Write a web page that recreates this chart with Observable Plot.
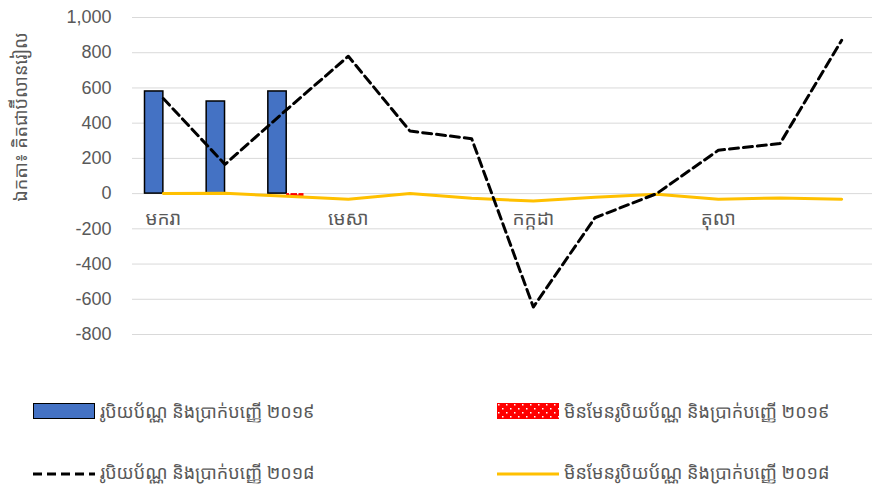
<!DOCTYPE html>
<html>
<head>
<meta charset="utf-8">
<script src="https://cdn.jsdelivr.net/npm/d3@7"></script>
<script src="https://cdn.jsdelivr.net/npm/@observablehq/plot@0.6"></script>
<style>
  body { margin: 0; background: #fff; }
  #wrap { position: relative; width: 877px; height: 490px; font-family: "Noto Sans Khmer", "Khmer OS", "Liberation Sans", sans-serif; }
  .leg { position: absolute; display: flex; align-items: center; font-size: 18px; color: #595959; white-space: nowrap; }
  .sw { width: 62px; height: 16px; margin-right: 5px; box-sizing: border-box; }
</style>
</head>
<body>
<div id="wrap"></div>
<script>
const months = ["មករា","កុម្ភៈ","មីនា","មេសា","ឧសភា","មិថុនា","កក្កដា","សីហា","កញ្ញា","តុលា","វិច្ឆិកា","ធ្នូ"];
const shownMonthLabels = ["មករា","មេសា","កក្កដា","តុលា"];
const currency2019 = [580, 523, 580];
const nonCurrency2019 = [0, 0, -16];
const currency2018 = [540, 166, 477, 780, 355, 312, -644, -137, 0, 246, 284, 871];
const nonCurrency2018 = [0, 2, -15, -32, 0, -27, -42, -20, -3, -32, -25, -32];
const yTicks = [-800, -600, -400, -200, 0, 200, 400, 600, 800, 1000];
const seriesNames = ["រូបិយប័ណ្ណ និងប្រាក់បញ្ញើ ២០១៩", "មិនមែនរូបិយប័ណ្ណ និងប្រាក់បញ្ញើ ២០១៩", "រូបិយប័ណ្ណ និងប្រាក់បញ្ញើ ២០១៨", "មិនមែនរូបិយប័ណ្ណ និងប្រាក់បញ្ញើ ២០១៨"];
const yTitle = "ឯកតា៖ គិតជាប៊ីលានរៀល";

const bars19 = currency2019.map((v, i) => ({month: months[i], v}));
const bars19n = nonCurrency2019.map((v, i) => ({month: months[i], v}));
const line18 = currency2018.map((v, i) => ({month: months[i], v}));
const line18n = nonCurrency2018.map((v, i) => ({month: months[i], v}));

const fmt = d3.format(",");
const chart = Plot.plot({
  width: 877,
  height: 375,
  marginTop: 17,
  marginBottom: 41,
  marginLeft: 132,
  marginRight: 5,
  style: {fontFamily: '"Liberation Sans", sans-serif', fontSize: "18px", color: "#595959", background: "transparent"},
  x: {type: "band", domain: months, padding: 0, round: false, axis: null},
  y: {domain: [-800, 1000], ticks: yTicks, tickFormat: d => fmt(d).replace("−", "-"), tickSize: 0, tickPadding: 21, label: null},
  marks: [
    Plot.gridY(yTicks, {stroke: "#d9d9d9", strokeOpacity: 1, strokeWidth: 1}),
    Plot.barY(bars19, {x: "month", y: "v", fill: "#4472C4", stroke: "#000", strokeWidth: 1.5, insetLeft: 12.5, insetRight: 30.8}),
    Plot.barY(bars19n, {x: "month", y: "v", fill: "url(#reddots)", stroke: "none", insetLeft: 30.8, insetRight: 13.5}),
    Plot.line(line18n, {x: "month", y: "v", stroke: "#FFC000", strokeWidth: 3}),
    Plot.line(line18, {x: "month", y: "v", stroke: "#000", strokeWidth: 3, strokeDasharray: "9,5"}),
    Plot.text(shownMonthLabels, {x: d => d, y: 0, dy: 25, text: d => d, fill: "#595959", fontSize: 19, fontFamily: '"Noto Sans Khmer", "Khmer OS", sans-serif'})
  ]
});

// pattern for dotted red bar
const defs = d3.select(chart).insert("defs", ":first-child");
const pat = defs.append("pattern").attr("id", "reddots").attr("patternUnits", "userSpaceOnUse").attr("width", 8).attr("height", 8);
pat.append("rect").attr("width", 8).attr("height", 8).attr("fill", "#FF0000");
pat.append("rect").attr("x", 1).attr("y", 1).attr("width", 1.5).attr("height", 1.5).attr("fill", "#fff");
pat.append("rect").attr("x", 5).attr("y", 5).attr("width", 1.5).attr("height", 1.5).attr("fill", "#fff");

// y-axis title
d3.select(chart).append("text")
  .attr("transform", "translate(22,117) rotate(-90)")
  .attr("text-anchor", "middle")
  .attr("dominant-baseline", "middle")
  .attr("fill", "#595959")
  .style("font-size", "18px")
  .style("font-family", '"Noto Sans Khmer", "Khmer OS", sans-serif')
  .text(yTitle);

const wrap = document.getElementById("wrap");
wrap.appendChild(chart);

const legendDefs = [
  {name: seriesNames[0], x: 33, y: 411, sw: '<div class="sw" style="background:#4472C4;border:1.5px solid #000"></div>'},
  {name: seriesNames[1], x: 497, y: 411, sw: '<svg class="sw" width="62" height="16"><defs><pattern id="rd2" patternUnits="userSpaceOnUse" width="8" height="8"><rect width="8" height="8" fill="#FF0000"/><rect x="1" y="1" width="1.5" height="1.5" fill="#fff"/><rect x="5" y="5" width="1.5" height="1.5" fill="#fff"/></pattern></defs><rect width="62" height="16" fill="url(#rd2)"/></svg>'},
  {name: seriesNames[2], x: 33, y: 472, sw: '<svg class="sw" width="62" height="16"><line x1="0" x2="62" y1="10" y2="10" stroke="#000" stroke-width="3" stroke-dasharray="9,5"/></svg>'},
  {name: seriesNames[3], x: 497, y: 472, sw: '<svg class="sw" width="62" height="16"><line x1="0" x2="62" y1="10" y2="10" stroke="#FFC000" stroke-width="3"/></svg>'}
];
for (const d of legendDefs) {
  const el = document.createElement("div");
  el.className = "leg";
  el.style.left = d.x + "px";
  el.style.top = (d.y - 14) + "px";
  el.style.height = "28px";
  el.innerHTML = d.sw + "<span>" + d.name + "</span>";
  wrap.appendChild(el);
}
</script>
</body>
</html>
